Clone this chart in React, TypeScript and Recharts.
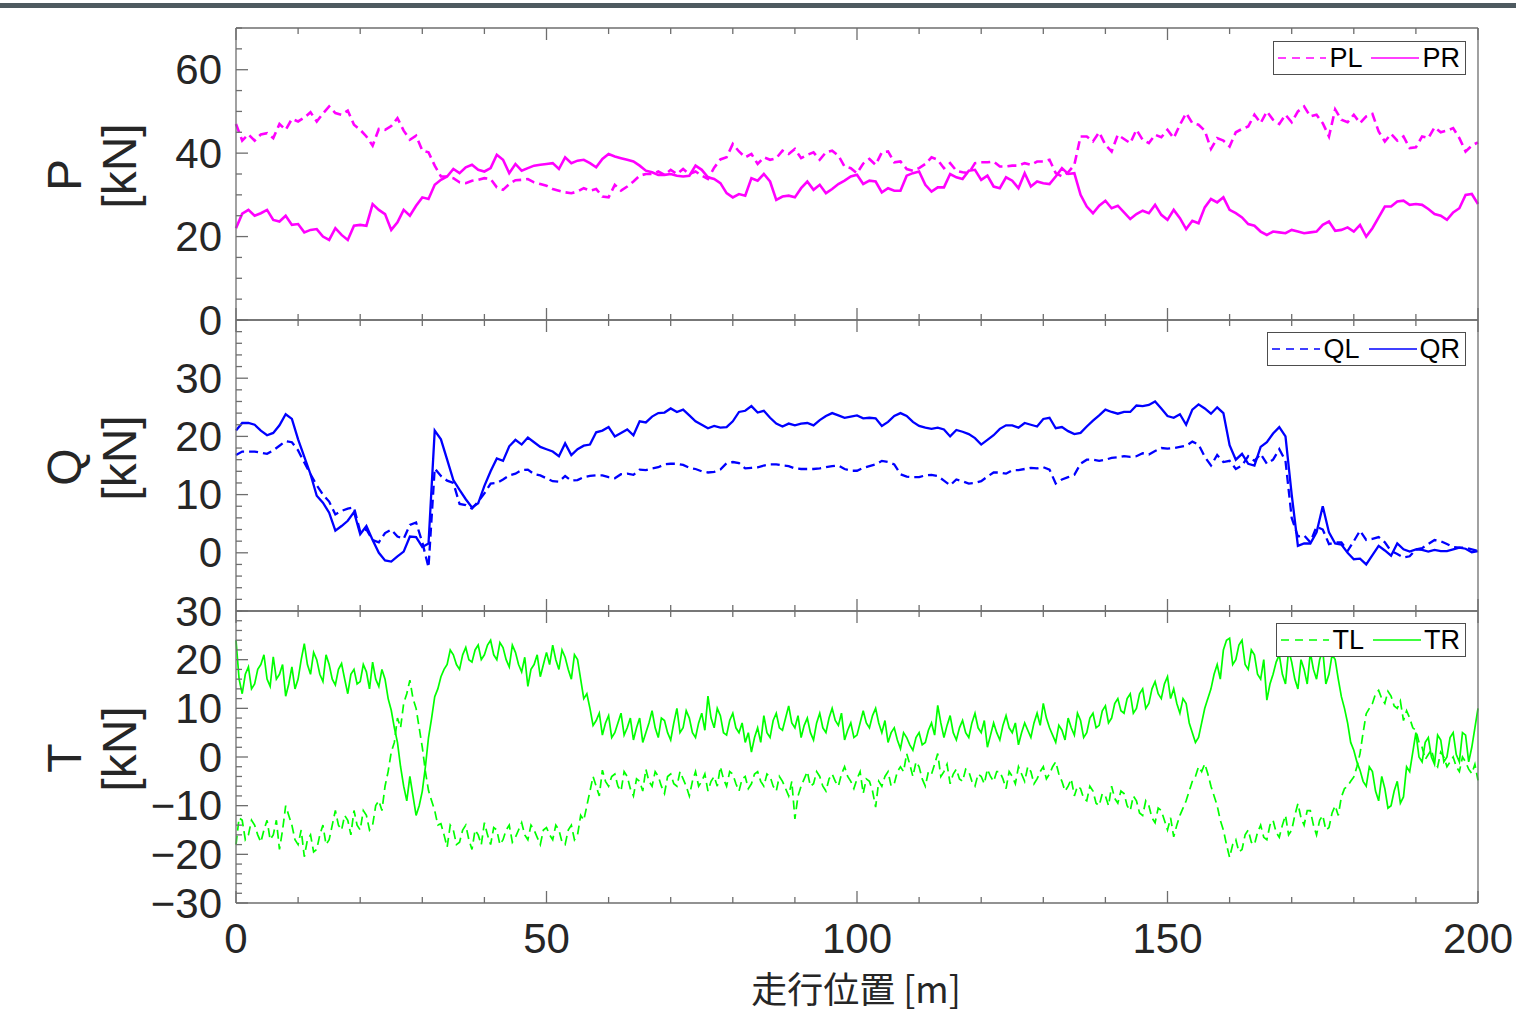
import React from 'react';
import { LineChart, Line, XAxis, YAxis } from 'recharts';

// P and Q are read once per metre, T every half metre (it is much noisier)
const PQ_STEP = 1;
const T_STEP = 0.5;

const plValues = [
    47, 43, 44.5, 43, 44.5, 44.8, 43.6, 47, 45.6, 48.2,
    47.6, 48.5, 49.8, 47.6, 49.5, 51.2, 49.6, 49.2, 50.2, 46.8,
    45.6, 44, 41.8, 45.8, 45.6, 46.5, 48.4, 45.4, 43.2, 44.2,
    40.6, 40.2, 37, 34.4, 34.4, 34, 33, 32.8, 33.4, 33.6,
    34, 33.8, 31.8, 31.2, 32.6, 33.5, 33.6, 33.8, 33, 32.6,
    32.2, 31.4, 31, 30.6, 30.4, 30.8, 31.6, 31, 31.4, 29.6,
    29.4, 32.4, 31, 32, 33.2, 34.6, 35, 35, 35.6, 34.8,
    36, 35, 36.2, 35, 35.6, 34.6, 33.8, 36.5, 38.5, 39,
    42.2, 40.4, 39, 39.8, 37.4, 39, 38.4, 38.8, 40.6, 39.8,
    41, 38.8, 39.6, 40.2, 38.4, 40.2, 40.6, 39.4, 36.8, 36.4,
    35.2, 37.5, 38.6, 37.2, 40.2, 40.4, 37.8, 38, 36.2, 35.8,
    36.4, 37.4, 39, 38.4, 36.4, 37.6, 35.8, 35.4, 35.2, 37.6,
    37.8, 37.8, 38, 36.8, 36.8, 37, 37, 37.6, 37.2, 38,
    38, 38.4, 35.2, 34.4, 35.4, 37.2, 44, 44, 42.8, 45,
    42, 40.4, 44.4, 43.4, 42.4, 45.6, 43.2, 42.4, 44.4, 43.8,
    45.6, 43.6, 46.8, 49.6, 47.2, 46.8, 45.4, 41, 43.6, 43,
    41.6, 45, 45.8, 46.4, 49.2, 47.2, 50, 48, 47, 49.2,
    47.4, 50, 51.2, 48.8, 49.2, 47.2, 44, 50.5, 48, 47.4,
    49.2, 47.2, 48.8, 49.4, 45.2, 42.8, 44.6, 43, 44, 41.2,
    41.4, 44, 43.6, 46.2, 45, 45.4, 46, 43.6, 40.4, 41.8,
    42.6,
];

const prValues = [
    22, 25.5, 26.4, 25, 25.6, 26.4, 24, 23.6, 25, 22.8,
    23, 21, 21.6, 21.8, 20, 19.2, 22, 20.4, 19.2, 22.6,
    22.8, 22.6, 27.8, 26.4, 25.4, 21.6, 23.4, 26.4, 25, 27.4,
    29.4, 29, 32.4, 33.6, 34.4, 36.2, 35.2, 36.6, 37.2, 36,
    35.6, 36.4, 39.6, 38.4, 35.2, 37.4, 35.8, 36.4, 37, 37.2,
    37.4, 37.6, 36.2, 39, 37.6, 38.2, 38.4, 37.6, 36.6, 38.6,
    39.8, 39.2, 38.8, 38.4, 38, 37, 35.8, 35.4, 34.8, 34.8,
    35, 34.6, 34.4, 34.6, 37, 36, 34.2, 33.8, 32.8, 30.4,
    29.4, 30.2, 29.8, 34, 33.4, 35, 33.2, 28.8, 29.6, 29.8,
    29.4, 31.6, 33.2, 31.2, 32.4, 30.4, 31.4, 32.6, 33.4, 34.4,
    34.8, 32.6, 33.4, 33.2, 30.6, 31.6, 31, 31, 34.6, 35.2,
    35.6, 32.4, 30.8, 31.8, 31.8, 35, 34.2, 33.8, 35.8, 36,
    33.6, 34.6, 32, 31.6, 34.2, 33.4, 31.6, 35.2, 32, 33.2,
    32.8, 32.6, 34.4, 36.4, 35, 35.2, 30, 27.2, 25.6, 27.4,
    28.6, 26.8, 27.4, 25.8, 24.2, 25.4, 26.2, 25.6, 27.6, 25.2,
    24, 26.4, 24.4, 21.8, 23.8, 23.2, 27, 29, 28.2, 29.4,
    26.4, 25.6, 24.6, 23, 22.6, 21.2, 20.4, 21.2, 21, 20.8,
    21.6, 21.2, 20.8, 21, 21.2, 22.8, 23.6, 21.4, 21.6, 22.2,
    21.2, 22.8, 20, 22, 24.6, 27.2, 27.2, 28.4, 28.6, 27.6,
    27.8, 27.6, 26.6, 25.4, 25, 24, 25.8, 26.8, 30, 30.2,
    27.8,
];

const qlValues = [
    16.8, 17.4, 17.4, 17.4, 17.2, 17, 17.6, 18.4, 19.2, 19,
    17.6, 15.5, 13.5, 11.6, 10, 8.8, 6.6, 7.2, 7.6, 7.8,
    3.6, 4, 2.2, 1.8, 3.4, 4, 2.8, 2.4, 4.8, 5.2,
    1.8, -2.5, 14.5, 13.2, 12.4, 12, 8.4, 8.2, 7.6, 8.8,
    10.2, 11.9, 12, 12.6, 13.3, 13.6, 14.2, 14.3, 13.5, 13.3,
    12.8, 12.3, 12.2, 13.2, 12.4, 12.5, 13, 13.2, 13.3, 13.3,
    13, 12.8, 13.5, 13.6, 13.4, 14.3, 14.2, 14.5, 14.7, 15.2,
    15.3, 15.3, 15.1, 14.6, 14.4, 14, 13.8, 13.9, 14.3, 15.4,
    15.6, 15.4, 14.5, 14.6, 14.7, 15, 15.2, 15.2, 15, 14.9,
    14.5, 14.4, 14.4, 14.4, 14.5, 14.7, 14.9, 15, 14.4, 14.1,
    14.1, 14.6, 14.9, 15.2, 15.8, 15.6, 15.2, 13.5, 13.1, 13,
    13, 13.3, 13.4, 13.2, 12.4, 11.6, 12.6, 12.3, 11.9, 12,
    12.3, 13.1, 13.8, 13.8, 13.6, 14.2, 14.2, 14.4, 14.6, 14.5,
    14.7, 14.3, 11.9, 12.6, 13, 13.4, 15.3, 16, 16, 15.8,
    16, 16.3, 16.4, 16.6, 16.5, 16.6, 17.1, 16.9, 17.5, 18,
    17.9, 18, 18.2, 18.4, 19.1, 18.6, 16.5, 15, 16.8, 15.6,
    15.8, 14.4, 15, 16.6, 15.8, 17, 15.3, 16, 17.8, 15.8,
    6, 2.8, 3, 1.8, 4.5, 4, 1.5, 1.8, 1.8, 0.3,
    2, 3.8, 2.2, 2.4, 2.7, 1.8, 0.3, -0.2, -0.8, -0.6,
    0.6, 0.8, 1.5, 2.2, 2, 1.5, 1, 0.9, 0.9, 0.6,
    0.3,
];

const qrValues = [
    21, 22.3, 22.3, 22, 21, 20.2, 20.6, 21.9, 23.8, 23,
    19.5, 16.5, 13.5, 9.8, 8.6, 6.9, 3.8, 4.6, 5.5, 7,
    3.2, 4.6, 2.2, 0, -1.3, -1.5, -0.6, 0.2, 2.8, 2.7,
    1, 1.6, 21, 19.5, 16, 12.5, 10.8, 9.2, 7.8, 8.5,
    11.5, 14, 16.2, 15.8, 18.3, 19.4, 18.6, 19.8, 19, 18.2,
    17.8, 17.4, 16.6, 18.8, 16.8, 17.8, 18.4, 18.6, 20.7, 21,
    21.6, 20, 20.6, 21.2, 20.2, 22.6, 22.4, 23.4, 24, 24.1,
    24.8, 24.2, 24.6, 23.6, 22.6, 22, 21.4, 21.8, 21.5, 21.6,
    22.6, 24.2, 24.4, 25.2, 24.1, 24.4, 23.2, 22.2, 21.7, 22.2,
    21.9, 22.2, 22.3, 21.9, 22.8, 23.5, 24, 23.6, 23.2, 23.4,
    23.6, 23.1, 23.2, 23.1, 21.8, 22.5, 23.5, 24, 23.5, 22.5,
    21.8, 21.5, 21.3, 21.5, 21.2, 20, 21.1, 20.8, 20.4, 19.7,
    18.6, 19.4, 20.2, 21.3, 21.9, 21.9, 21.5, 22.3, 22, 21.7,
    23, 23.2, 21.4, 21.6, 20.9, 20.4, 20.6, 21.7, 22.7, 23.6,
    24.6, 24.2, 23.9, 24.2, 24.2, 25.3, 25.2, 25.4, 26, 24.8,
    23.5, 23.2, 23.8, 22, 24.6, 25.5, 24.8, 23.9, 25, 24,
    18.5, 16, 17, 15.3, 15, 18.2, 19, 20.5, 21.6, 20,
    10, 1.2, 1.6, 1.6, 3.5, 8, 3.5, 1.6, 1.4, 0,
    -1.1, -1, -2, -0.4, 1.2, 0.4, -0.5, 1.6, 0.6, 0.2,
    0.6, 0.5, 0.2, 0.5, 0.3, 0.3, 0.6, 0.9, 0.7, 0.1,
    0.3,
];

// one row of 20 values = 10 m
const tlValues = [
    -18, -12.5, -13, -17, -16, -13, -14, -16, -17.5, -15, -13, -17, -16, -13, -19, -15, -10, -12, -14, -17,
    -18, -15, -20.5, -17, -16, -19.5, -19, -16, -14, -18, -17, -14, -11, -14, -15, -12, -13, -16, -11, -14,
    -15, -11, -12, -15, -14, -10, -9, -11, -6, -3, 1, 3, 8, 6, 11, 13, 15.8, 12, 10, 6,
    2, -3, -6.9, -9, -11, -14, -13.7, -16, -18.5, -14, -15, -18, -17.5, -15, -14, -17, -19, -15, -16, -18,
    -13.5, -16, -18, -14.5, -15, -18, -17, -15, -14, -17.5, -16.5, -15, -13.5, -16, -17, -14, -15, -16.5, -18, -15,
    -14.5, -16, -17, -14, -15, -17.5, -18, -15, -14, -17, -16, -12, -13, -10, -7, -4, -6, -8, -2.7, -5,
    -6, -4, -3.5, -6, -7, -3, -4, -6.5, -8, -4.5, -5, -7, -2.5, -5, -6, -3, -4, -6, -7.5, -4,
    -3.5, -5.5, -6, -3, -4.5, -6, -8, -5, -3, -6, -5, -3.5, -7, -5, -4, -6, -2, -4.5, -6, -3,
    -3.5, -5.5, -7, -4.5, -4, -6.5, -5.5, -3.5, -3, -5, -6, -3.5, -4, -6, -7, -4, -5, -6.5, -8, -5,
    -12.7, -8, -6, -4.5, -3, -6, -5.5, -3, -4, -6, -7, -4.5, -3.5, -5, -6, -3.5, -2, -4, -5, -6.5,
    -4.5, -3, -7.5, -4.5, -5, -7, -10.3, -5, -6, -4, -3, -6, -5.5, -3, -2, -3, 0.7, -1.5, -4, -1,
    -2, -4.5, -6, -3, -3.5, -1.5, 0.7, -4, -3, -1.5, -5.5, -3.5, -2.5, -4.5, -5, -2.5, -3, -5, -6, -3.5,
    -4, -5.5, -2.5, -4, -5, -3, -3, -4.5, -6.5, -3, -4, -5.5, -2, -3.5, -5, -2, -3, -5.5, -4.5, -3,
    -2, -4.5, -3.5, -2, -1, -3.5, -5, -7, -6, -4.5, -8, -6, -6.5, -8.5, -9, -6, -7, -9.5, -10, -7.5,
    -8, -10, -6, -8.5, -9.5, -7, -7.5, -10, -11, -8, -9, -11.5, -12, -9, -10, -12.5, -13.5, -10.5, -11, -13,
    -15, -12.5, -16.4, -14, -12, -10.5, -9, -7, -5, -4, -2, -3, -1.4, -3.5, -6, -8, -10, -13, -15, -18,
    -20.6, -18, -17, -19.5, -19, -16, -15, -17.5, -18, -15.5, -14, -16.5, -17, -14, -13, -15.5, -16.5, -14, -12, -16,
    -15, -12, -9.6, -12.5, -14, -11, -11, -14, -16, -13, -12, -15, -14.5, -11.5, -10, -12, -8.2, -6.5, -6, -5,
    -4.1, -2, 0.7, 5, 8.9, 10, 11, 13, 13.7, 12, 11, 13.5, 12.5, 10.5, 10, 11.5, 7.5, 9.5, 8, 6,
    5.5, 3, 2, -0.5, 0.5, 1.5, -1, -2, 1, 0, -2, -1, 0, -2, -3, 0, -1, -2.5, -3.4, -1.5,
    -4.8,
];

const trValues = [
    24, 16, 13, 17, 18.5, 14, 15, 18, 19, 21, 16, 14.5, 20.6, 16, 17, 19, 12.5, 15, 18.5, 14,
    16, 20, 23.3, 19, 17, 21.5, 20, 17, 15.5, 21, 19, 16, 14.8, 18, 19.2, 16, 13, 17, 18, 15,
    15.5, 19, 17.5, 14, 19.5, 16, 14.5, 18, 16, 12, 9.6, 6, 3, -2, -6, -9, -4, -8, -12, -10,
    -7, -2, 4, 8, 12.4, 14, 16.5, 18, 19, 22, 21, 19, 18, 21, 22.5, 20, 19.5, 22, 23, 20,
    21, 23, 24, 21, 20, 23.5, 22.5, 20, 18.5, 23, 21.5, 19, 17.5, 20.5, 14.5, 18, 19, 21, 16.5, 19,
    21.5, 19, 23, 20, 18, 22, 20.5, 18, 16, 21, 20, 16, 12, 13, 10, 6.5, 7.5, 9, 4.5, 7,
    8.5, 4, 5, 7, 9, 4.5, 6, 8, 3.5, 6, 8, 3, 5, 7, 9.5, 6, 4, 8, 7.5, 5,
    3.5, 7, 10, 5, 6, 9.5, 8, 5, 4, 7, 9, 5.5, 12.5, 8, 6, 10, 8.5, 5, 4.5, 7.5,
    9, 6, 5, 7, 3, 5, 1, 4, 6, 3, 8.5, 5, 4, 7.5, 9, 6, 5.5, 8, 10.5, 7,
    6, 8.5, 4, 6.5, 8, 5, 3.5, 7, 9, 6, 5, 8, 10, 7.5, 6.5, 9, 3.5, 5.5, 7, 4,
    4.5, 7, 9.5, 7, 6, 8.5, 10, 7, 5, 7.5, 3, 5, 6, 3.5, 1.7, 5, 4, 2.5, 1.4, 4,
    5, 2.5, 3, 5.5, 7, 4.5, 10.6, 7, 4, 6.5, 8.5, 5, 3.5, 6, 7.5, 5, 4, 7, 9, 6,
    5, 7.5, 2, 4.5, 7, 5, 3.5, 6.5, 8.5, 6, 5, 7, 2.5, 5, 7, 5.5, 4, 7, 9, 6.5,
    11, 8, 6, 4.5, 3, 6.5, 5.5, 3.5, 8, 6, 4.5, 9, 7.5, 4, 5, 8, 9, 6, 6.5, 9.5,
    10.5, 7, 8, 11, 12, 9.5, 9, 12, 13, 9, 10, 13, 14, 10, 11, 14, 15.5, 13, 12, 15,
    16.5, 12, 14, 11, 9, 12, 11, 7, 5, 3, 4, 7, 10, 12, 14, 17, 19, 16, 22, 24,
    24.4, 19, 20, 23, 24, 19, 18, 22, 21, 17, 16, 20, 11.7, 15, 17, 19.5, 21, 17, 15, 22,
    19.5, 16, 14, 20, 18, 15, 21.5, 18, 16, 20, 22, 15, 17, 21, 20, 16, 12.4, 10, 7, 3,
    1.4, -1, -2.7, -5, -6, -2, -3, -7, -9, -4, -6.5, -10.5, -10, -7, -5, -9.5, -8.2, -2, -3, 1,
    5, 0, -1, 3, 4, 0, -1.5, 4.5, 3.5, -1, 0, 4, 5, 0.5, -1, 5, 4.5, -1, 2, 6,
    10,
];

const xTicks = [0, 10, 20, 30, 40, 50, 60, 70, 80, 90, 100, 110, 120, 130, 140, 150, 160, 170, 180, 190, 200];
const xMajorTicks = [0, 50, 100, 150, 200];

const pTicks = [0, 5, 10, 15, 20, 25, 30, 35, 40, 45, 50, 55, 60, 65, 70];
const pMajorTicks = [0, 20, 40, 60];
const qTicks = [-10, -8, -6, -4, -2, 0, 2, 4, 6, 8, 10, 12, 14, 16, 18, 20, 22, 24, 26, 28, 30, 32, 34, 36, 38, 40];
const qMajorTicks = [0, 10, 20, 30];
const tTicks = [-30, -28, -26, -24, -22, -20, -18, -16, -14, -12, -10, -8, -6, -4, -2, 0, 2, 4, 6, 8, 10, 12, 14, 16, 18, 20, 22, 24, 26, 28, 30];
const tMajorTicks = [-30, -20, -10, 0, 10, 20, 30];

const pqRows = plValues.map((_, i) => ({
    x: i * PQ_STEP,
    pl: plValues[i],
    pr: prValues[i],
    ql: qlValues[i],
    qr: qrValues[i],
}));

const tRows = tlValues.map((_, i) => ({
    x: i * T_STEP,
    tl: tlValues[i],
    tr: trValues[i],
}));

const CHART_W = 1516;
const PLOT_LEFT = 236;
const PLOT_RIGHT = 1478;
const AXIS = '#6e6e6e';
const TEXT = '#262626';
const NUM_FONT = '"Liberation Sans", Arial, sans-serif';
const JP_FONT = '"Noto Sans CJK JP", sans-serif';

interface SeriesDef {
    key: string;
    name: string;
    dashed: boolean;
}

interface PanelDef {
    title: string;
    top: number;
    bottom: number;
    domain: [number, number];
    ticks: number[];
    majors: number[];
    color: string;
    strokeWidth: number;
    legendTop: number;
    rows: Record<string, number>[];
    series: SeriesDef[];
}

const panels: PanelDef[] = [
    {
        title: 'P', top: 28, bottom: 320, domain: [0, 70], ticks: pTicks, majors: pMajorTicks,
        color: '#ff00ff', strokeWidth: 2.6, legendTop: 41, rows: pqRows,
        series: [{ key: 'pl', name: 'PL', dashed: true }, { key: 'pr', name: 'PR', dashed: false }],
    },
    {
        title: 'Q', top: 320, bottom: 611, domain: [-10, 40], ticks: qTicks, majors: qMajorTicks,
        color: '#0000ff', strokeWidth: 2.3, legendTop: 332, rows: pqRows,
        series: [{ key: 'ql', name: 'QL', dashed: true }, { key: 'qr', name: 'QR', dashed: false }],
    },
    {
        title: 'T', top: 611, bottom: 903, domain: [-30, 30], ticks: tTicks, majors: tMajorTicks,
        color: '#00ff00', strokeWidth: 1.7, legendTop: 623, rows: tRows,
        series: [{ key: 'tl', name: 'TL', dashed: true }, { key: 'tr', name: 'TR', dashed: false }],
    },
];

const fmt = (v: number) => (v < 0 ? `\u2212${-v}` : `${v}`);

const Panel: React.FC<{ cfg: PanelDef; showX: boolean }> = ({ cfg, showX }) => {
    const padTop = 30;
    const padBottom = showX ? 70 : 30;
    const h = cfg.bottom - cfg.top;
    const top = padTop;
    const bottom = padTop + h;

    const yTick = (side: 'left' | 'right') => (props: any) => {
        const v = props.payload.value;
        const y = props.payload.coordinate ?? props.y;
        const len = cfg.majors.includes(v) ? 12 : 6;
        const x0 = side === 'left' ? PLOT_LEFT : PLOT_RIGHT;
        const x1 = side === 'left' ? PLOT_LEFT + len : PLOT_RIGHT - len;
        return (
            <g>
                <line x1={x0} x2={x1} y1={y} y2={y} stroke={AXIS} strokeWidth={1.3} />
                {side === 'left' && cfg.majors.includes(v) && (
                    <text x={222} y={y} textAnchor="end" dominantBaseline="central"
                        fontFamily={NUM_FONT} fontSize={42} fill={TEXT}>
                        {fmt(v)}
                    </text>
                )}
            </g>
        );
    };

    const xTick = (side: 'top' | 'bottom') => (props: any) => {
        const v = props.payload.value;
        const x = props.payload.coordinate ?? props.x;
        const len = xMajorTicks.includes(v) ? 12 : 6;
        const y0 = side === 'top' ? top : bottom;
        const y1 = side === 'top' ? top + len : bottom - len;
        return (
            <g>
                <line x1={x} x2={x} y1={y0} y2={y1} stroke={AXIS} strokeWidth={1.3} />
                {side === 'bottom' && showX && xMajorTicks.includes(v) && (
                    <text x={x} y={bottom + 35} textAnchor="middle" dominantBaseline="central"
                        fontFamily={NUM_FONT} fontSize={42} fill={TEXT}>
                        {v}
                    </text>
                )}
            </g>
        );
    };

    const axisLine = { stroke: AXIS, strokeWidth: 1.3 };

    return (
        <div style={{ position: 'absolute', left: 0, top: cfg.top - padTop }}>
            <LineChart
                width={CHART_W}
                height={h + padTop + padBottom}
                data={cfg.rows}
                margin={{ top: padTop - 1, bottom: padBottom - 1, left: PLOT_LEFT - 1, right: CHART_W - PLOT_RIGHT - 1 }}
            >
                <XAxis xAxisId="b" orientation="bottom" type="number" dataKey="x" domain={[0, 200]}
                    ticks={xTicks} interval={0} height={1} tickLine={false} axisLine={axisLine} tick={xTick('bottom')} />
                <XAxis xAxisId="t" orientation="top" type="number" dataKey="x" domain={[0, 200]}
                    ticks={xTicks} interval={0} height={1} tickLine={false} axisLine={axisLine} tick={xTick('top')} />
                <YAxis yAxisId="l" orientation="left" type="number" domain={cfg.domain}
                    ticks={cfg.ticks} interval={0} width={1} tickLine={false} axisLine={axisLine} tick={yTick('left')} />
                <YAxis yAxisId="r" orientation="right" type="number" domain={cfg.domain}
                    ticks={cfg.ticks} interval={0} width={1} tickLine={false} axisLine={axisLine} tick={yTick('right')} />
                {cfg.series.map((s) => (
                    <Line
                        key={s.key}
                        xAxisId="b"
                        yAxisId="l"
                        type="linear"
                        dataKey={s.key}
                        stroke={cfg.color}
                        strokeWidth={cfg.strokeWidth}
                        strokeDasharray={s.dashed ? '9 5' : undefined}
                        dot={false}
                        activeDot={false}
                        isAnimationActive={false}
                    />
                ))}
            </LineChart>
        </div>
    );
};

const LegendBox: React.FC<{ cfg: PanelDef }> = ({ cfg }) => (
    <div style={{
        position: 'absolute', right: CHART_W - 1466, top: cfg.legendTop, height: 34,
        boxSizing: 'border-box', border: '1px solid #4d4d4d', background: '#fff',
        display: 'flex', alignItems: 'center', padding: '0 5px 0 4px',
        fontFamily: NUM_FONT, fontSize: 27, color: '#000',
    }}>
        {cfg.series.map((s, i) => (
            <React.Fragment key={s.key}>
                <svg width={48} height={10} style={{ marginLeft: i ? 9 : 0 }}>
                    <line x1={0} x2={48} y1={5} y2={5} stroke={cfg.color} strokeWidth={1.6}
                        strokeDasharray={s.dashed ? '8 6' : undefined} />
                </svg>
                <span style={{ marginLeft: 3, lineHeight: 1 }}>{s.name}</span>
            </React.Fragment>
        ))}
    </div>
);

const rotated = (text: string, cx: number, cy: number, key: string) => (
    <div key={key} style={{
        position: 'absolute', left: cx, top: cy, transform: 'translate(-50%, -50%) rotate(-90deg)',
        fontFamily: NUM_FONT, fontSize: 48, color: TEXT, lineHeight: 1, whiteSpace: 'nowrap',
    }}>
        {text}
    </div>
);

export default function App() {
    return (
        <div style={{ position: 'absolute', left: 0, top: 0, width: CHART_W, height: 1013, background: '#fff', overflow: 'hidden' }}>
            <div style={{ position: 'absolute', left: 0, top: 3, width: CHART_W, height: 5, background: '#4e5a60' }} />
            {panels.map((p, i) => (
                <Panel key={p.title} cfg={p} showX={i === panels.length - 1} />
            ))}
            {panels.map((p) => {
                const mid = (p.top + p.bottom) / 2;
                return [
                    rotated(p.title, 65, mid + 1, p.title + '-name'),
                    rotated('[kN]', 120, mid - 8, p.title + '-unit'),
                ];
            })}
            {panels.map((p) => (
                <LegendBox key={p.title + '-legend'} cfg={p} />
            ))}
            <div style={{
                position: 'absolute', left: 856, top: 986.5, transform: 'translate(-50%, -50%)',
                fontFamily: JP_FONT, fontSize: 36, color: TEXT, lineHeight: 1, whiteSpace: 'nowrap',
            }}>
                走行位置 [m]
            </div>
        </div>
    );
}
